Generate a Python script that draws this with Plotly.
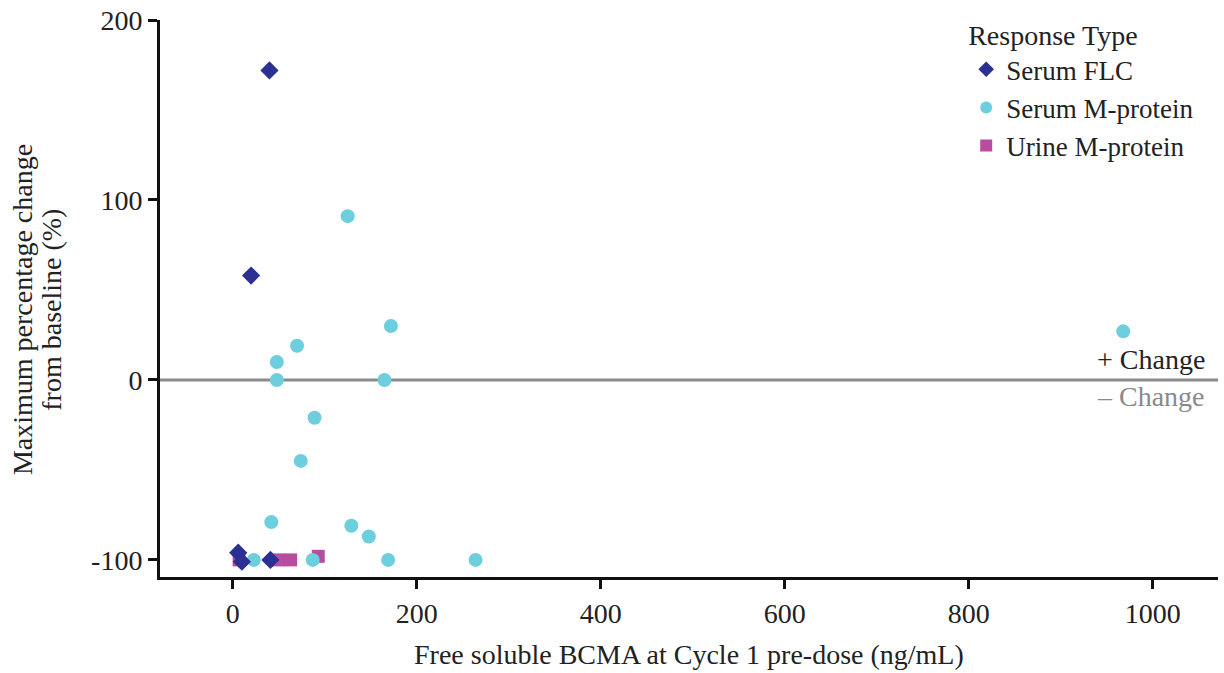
import plotly.graph_objects as go

# Data
flc_x = [40, 20, 6, 10, 41]
flc_y = [172, 58, -96, -101, -100]

serum_x = [125, 172, 968, 70, 48, 48, 165, 89, 74, 42, 129, 148, 23, 87, 169, 264]
serum_y = [91, 30, 27, 19, 10, 0, 0, -21, -45, -79, -81, -87, -100, -100, -100, -100]

urine_x = [7, 50, 63, 93]
urine_y = [-100, -100, -100, -98]

x_ticks = [0, 200, 400, 600, 800, 1000]
y_ticks = [-100, 0, 100, 200]
y_tick_text = ["-100", "0", "100", "200"]

x_title = "Free soluble BCMA at Cycle 1 pre-dose (ng/mL)"
y_title_lines = ["Maximum percentage change", "from baseline (%)"]

FONT = "Liberation Serif, Times New Roman, Noto Serif, DejaVu Serif, serif"
FS = 28
TXT = "#222222"

fig = go.Figure()
fig.add_trace(go.Scatter(
    x=urine_x, y=urine_y, mode="markers", name="Urine M-protein",
    marker=dict(symbol="square", size=13, color="#b84c9e"), legendrank=3))
fig.add_trace(go.Scatter(
    x=serum_x, y=serum_y, mode="markers", name="Serum M-protein",
    marker=dict(symbol="circle", size=14, color="#6dcfdd"), legendrank=2))
fig.add_trace(go.Scatter(
    x=flc_x, y=flc_y, mode="markers", name="Serum FLC",
    marker=dict(symbol="diamond", size=14, color="#2b3092"), legendrank=1))

fig.add_shape(type="line", xref="paper", yref="y", x0=0, x1=1, y0=0, y1=0,
              line=dict(color="#8a8a8a", width=3), layer="below")

fig.add_annotation(text="+ Change", xref="paper", yref="y", x=0.99, y=0,
                   xanchor="right", yanchor="bottom", showarrow=False, yshift=3,
                   font=dict(family=FONT, size=FS, color=TXT))
fig.add_annotation(text="\u2013 Change", xref="paper", yref="y", x=0.99, y=0,
                   xanchor="right", yanchor="top", showarrow=False, yshift=1,
                   font=dict(family=FONT, size=FS, color="#8a8a8a"))

# axis titles as annotations
fig.add_annotation(text=x_title, xref="paper", yref="paper", x=0.5, y=-0.14,
                   xanchor="center", yanchor="middle", showarrow=False,
                   font=dict(family=FONT, size=FS, color=TXT))
fig.add_annotation(text=y_title_lines[0], xref="paper", yref="paper", x=-0.13, y=0.48,
                   xanchor="center", yanchor="middle", showarrow=False, textangle=-90,
                   font=dict(family=FONT, size=FS, color=TXT))
fig.add_annotation(text=y_title_lines[1], xref="paper", yref="paper", x=-0.102, y=0.48,
                   xanchor="center", yanchor="middle", showarrow=False, textangle=-90,
                   font=dict(family=FONT, size=FS, color=TXT))

fig.update_layout(
    width=1224, height=673,
    margin=dict(l=160, r=6, t=20, b=96),
    plot_bgcolor="white", paper_bgcolor="white",
    font=dict(family=FONT, size=FS, color=TXT),
    legend=dict(
        title=dict(text="Response Type", font=dict(family=FONT, size=FS, color=TXT)),
        x=0.762, y=1.02, xanchor="left", yanchor="top",
        font=dict(family=FONT, size=27, color=TXT), bgcolor="rgba(0,0,0,0)",
        tracegroupgap=0, itemsizing="constant",
    ),
    xaxis=dict(
        range=[-79, 1071], tickvals=x_ticks, ticks="outside", ticklen=9,
        tickwidth=3, tickcolor="#111111", showline=True, linewidth=3,
        linecolor="#111111", showgrid=False, zeroline=False,
        tickfont=dict(family=FONT, size=FS, color=TXT),
    ),
    yaxis=dict(
        range=[-109.5, 200], tickvals=y_ticks, ticktext=y_tick_text,
        ticks="outside", ticklen=9,
        tickwidth=3, tickcolor="#111111", showline=True, linewidth=3,
        linecolor="#111111", showgrid=False, zeroline=False,
        tickfont=dict(family=FONT, size=FS, color=TXT),
    ),
)

# make sure every text node uses the serif face once fonts are ready
post = """
(function(){
  function fix(){
    document.querySelectorAll('svg text').forEach(function(t){
      t.style.fontFamily = '"Liberation Serif", "Times New Roman", "Noto Serif", "DejaVu Serif", serif';
    });
  }
  fix();
  if (document.fonts && document.fonts.ready) { document.fonts.ready.then(fix); }
  setTimeout(fix, 200);
})();
"""

fig.write_html("out.html", post_script=post)
